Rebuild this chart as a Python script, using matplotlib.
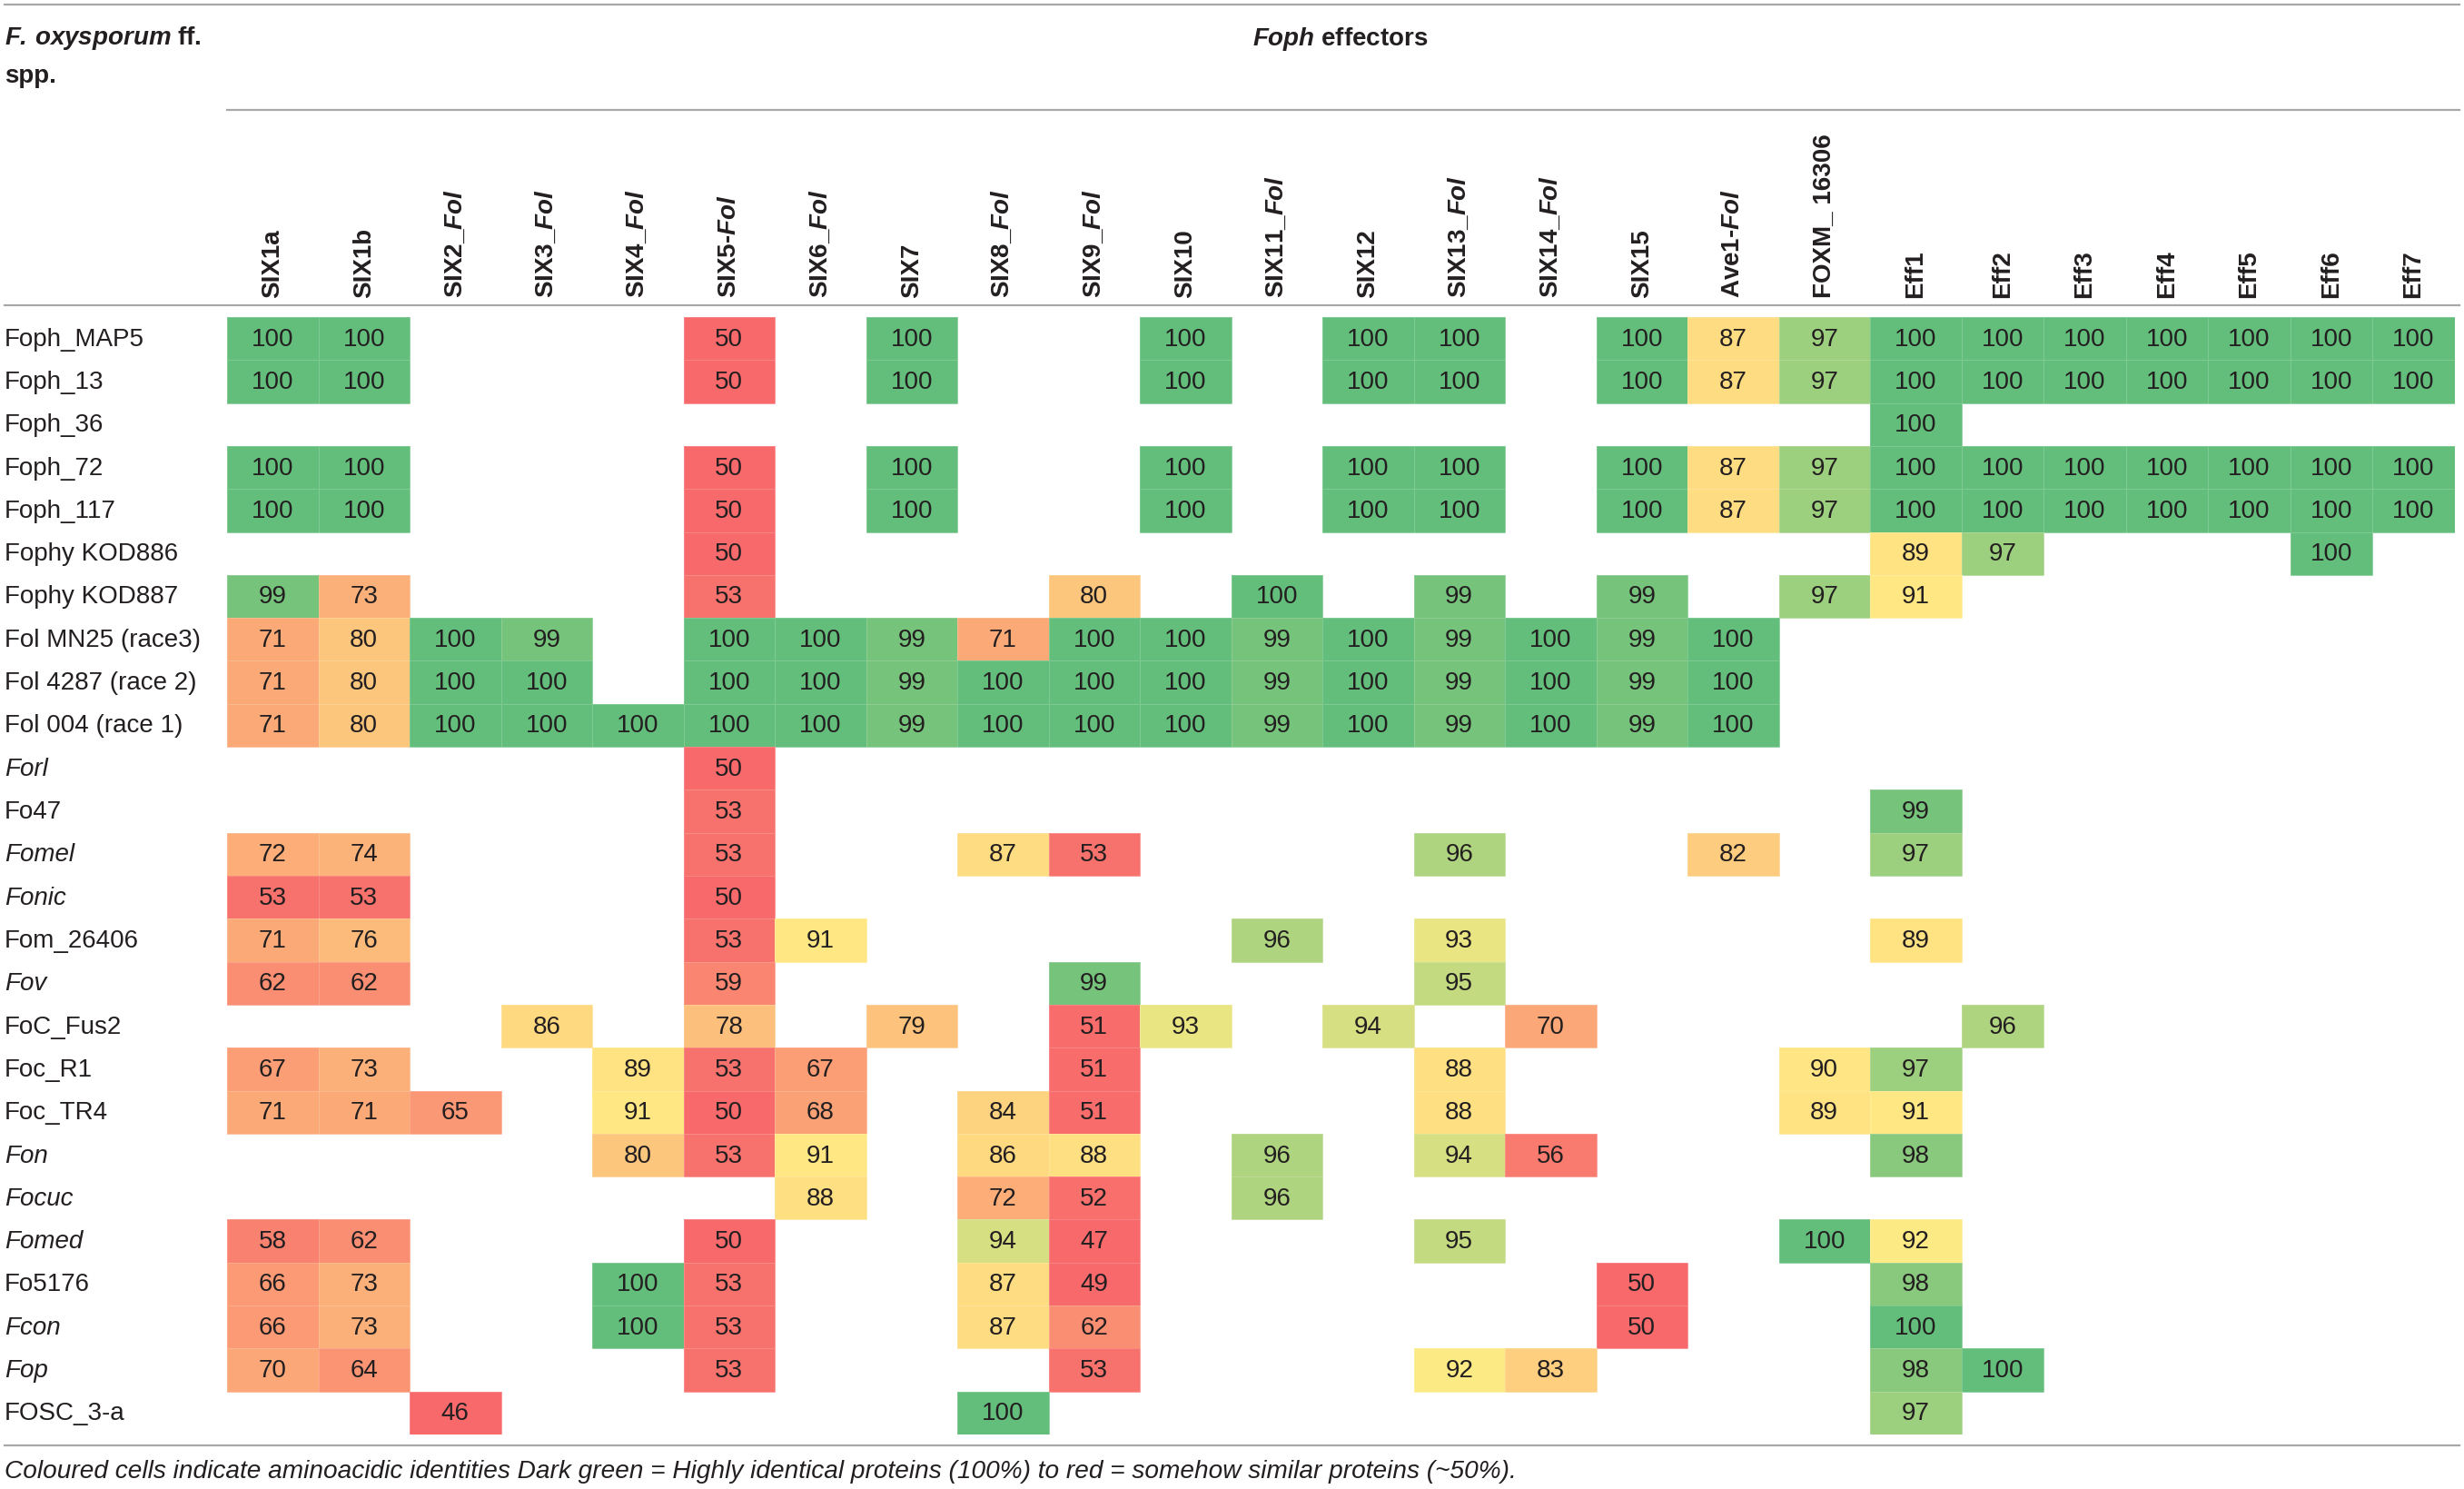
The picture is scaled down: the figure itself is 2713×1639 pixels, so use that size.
import numpy as np
import matplotlib
matplotlib.use("Agg")
import matplotlib.pyplot as plt
from matplotlib.colors import LinearSegmentedColormap, Normalize
from matplotlib.lines import Line2D
from matplotlib.transforms import blended_transform_factory

N = np.nan

# ---------------- data ----------------
effector_labels = [
    "SIX1a", "SIX1b", r"SIX2_$\mathbfit{Fol}$", r"SIX3_$\mathbfit{Fol}$",
    r"SIX4_$\mathbfit{Fol}$", r"SIX5-$\mathbfit{Fol}$", r"SIX6_$\mathbfit{Fol}$",
    "SIX7", r"SIX8_$\mathbfit{Fol}$", r"SIX9_$\mathbfit{Fol}$", "SIX10",
    r"SIX11_$\mathbfit{Fol}$", "SIX12", r"SIX13_$\mathbfit{Fol}$",
    r"SIX14_$\mathbfit{Fol}$", "SIX15", r"Ave1-$\mathbfit{Fol}$", "FOXM_ 16306",
    "Eff1", "Eff2", "Eff3", "Eff4", "Eff5", "Eff6", "Eff7",
]

strains = [
    "Foph_MAP5", "Foph_13", "Foph_36", "Foph_72", "Foph_117", "Fophy KOD886",
    "Fophy KOD887", "Fol MN25 (race3)", "Fol 4287 (race 2)", "Fol 004 (race 1)",
    "Forl", "Fo47", "Fomel", "Fonic", "Fom_26406", "Fov", "FoC_Fus2", "Foc_R1",
    "Foc_TR4", "Fon", "Focuc", "Fomed", "Fo5176", "Fcon", "Fop", "FOSC_3-a",
]
italic_strains = ["Forl", "Fomel", "Fonic", "Fov", "Fon", "Focuc", "Fomed", "Fcon", "Fop"]

#            1a   1b   2    3    4    5    6    7    8    9    10   11   12   13   14   15  Ave FOXM  E1   E2   E3   E4   E5   E6   E7
foph_map5 = [100, 100, N,   N,   N,   50,  N,   100, N,   N,   100, N,   100, 100, N,   100, 87,  97, 100, 100, 100, 100, 100, 100, 100]
foph_13   = [100, 100, N,   N,   N,   50,  N,   100, N,   N,   100, N,   100, 100, N,   100, 87,  97, 100, 100, 100, 100, 100, 100, 100]
foph_36   = [N,   N,   N,   N,   N,   N,   N,   N,   N,   N,   N,   N,   N,   N,   N,   N,   N,   N,  100, N,   N,   N,   N,   N,   N]
foph_72   = [100, 100, N,   N,   N,   50,  N,   100, N,   N,   100, N,   100, 100, N,   100, 87,  97, 100, 100, 100, 100, 100, 100, 100]
foph_117  = [100, 100, N,   N,   N,   50,  N,   100, N,   N,   100, N,   100, 100, N,   100, 87,  97, 100, 100, 100, 100, 100, 100, 100]
kod886    = [N,   N,   N,   N,   N,   50,  N,   N,   N,   N,   N,   N,   N,   N,   N,   N,   N,   N,   89,  97,  N,   N,   N,   100, N]
kod887    = [99,  73,  N,   N,   N,   53,  N,   N,   N,   80,  N,   100, N,   99,  N,   99,  N,   97,  91,  N,   N,   N,   N,   N,   N]
fol_mn25  = [71,  80,  100, 99,  N,   100, 100, 99,  71,  100, 100, 99,  100, 99,  100, 99,  100, N,   N,   N,   N,   N,   N,   N,   N]
fol_4287  = [71,  80,  100, 100, N,   100, 100, 99,  100, 100, 100, 99,  100, 99,  100, 99,  100, N,   N,   N,   N,   N,   N,   N,   N]
fol_004   = [71,  80,  100, 100, 100, 100, 100, 99,  100, 100, 100, 99,  100, 99,  100, 99,  100, N,   N,   N,   N,   N,   N,   N,   N]
forl      = [N,   N,   N,   N,   N,   50,  N,   N,   N,   N,   N,   N,   N,   N,   N,   N,   N,   N,   N,   N,   N,   N,   N,   N,   N]
fo47      = [N,   N,   N,   N,   N,   53,  N,   N,   N,   N,   N,   N,   N,   N,   N,   N,   N,   N,   99,  N,   N,   N,   N,   N,   N]
fomel     = [72,  74,  N,   N,   N,   53,  N,   N,   87,  53,  N,   N,   N,   96,  N,   N,   82,  N,   97,  N,   N,   N,   N,   N,   N]
fonic     = [53,  53,  N,   N,   N,   50,  N,   N,   N,   N,   N,   N,   N,   N,   N,   N,   N,   N,   N,   N,   N,   N,   N,   N,   N]
fom_26406 = [71,  76,  N,   N,   N,   53,  91,  N,   N,   N,   N,   96,  N,   93,  N,   N,   N,   N,   89,  N,   N,   N,   N,   N,   N]
fov       = [62,  62,  N,   N,   N,   59,  N,   N,   N,   99,  N,   N,   N,   95,  N,   N,   N,   N,   N,   N,   N,   N,   N,   N,   N]
foc_fus2  = [N,   N,   N,   86,  N,   78,  N,   79,  N,   51,  93,  N,   94,  N,   70,  N,   N,   N,   N,   96,  N,   N,   N,   N,   N]
foc_r1    = [67,  73,  N,   N,   89,  53,  67,  N,   N,   51,  N,   N,   N,   88,  N,   N,   N,   90,  97,  N,   N,   N,   N,   N,   N]
foc_tr4   = [71,  71,  65,  N,   91,  50,  68,  N,   84,  51,  N,   N,   N,   88,  N,   N,   N,   89,  91,  N,   N,   N,   N,   N,   N]
fon       = [N,   N,   N,   N,   80,  53,  91,  N,   86,  88,  N,   96,  N,   94,  56,  N,   N,   N,   98,  N,   N,   N,   N,   N,   N]
focuc     = [N,   N,   N,   N,   N,   N,   88,  N,   72,  52,  N,   96,  N,   N,   N,   N,   N,   N,   N,   N,   N,   N,   N,   N,   N]
fomed     = [58,  62,  N,   N,   N,   50,  N,   N,   94,  47,  N,   N,   N,   95,  N,   N,   N,   100, 92,  N,   N,   N,   N,   N,   N]
fo5176    = [66,  73,  N,   N,   100, 53,  N,   N,   87,  49,  N,   N,   N,   N,   N,   50,  N,   N,   98,  N,   N,   N,   N,   N,   N]
fcon      = [66,  73,  N,   N,   100, 53,  N,   N,   87,  62,  N,   N,   N,   N,   N,   50,  N,   N,   100, N,   N,   N,   N,   N,   N]
fop       = [70,  64,  N,   N,   N,   53,  N,   N,   N,   53,  N,   N,   N,   92,  83,  N,   N,   N,   98,  100, N,   N,   N,   N,   N]
fosc_3a   = [N,   N,   46,  N,   N,   N,   N,   N,   100, N,   N,   N,   N,   N,   N,   N,   N,   N,   97,  N,   N,   N,   N,   N,   N]

identity = np.array([
    foph_map5, foph_13, foph_36, foph_72, foph_117, kod886, kod887,
    fol_mn25, fol_4287, fol_004, forl, fo47, fomel, fonic, fom_26406, fov,
    foc_fus2, foc_r1, foc_tr4, fon, focuc, fomed, fo5176, fcon, fop, fosc_3a,
], dtype=float)

footnote = ("Coloured cells indicate aminoacidic identities Dark green = Highly identical "
            "proteins (100%) to red = somehow similar proteins (~50%).")

# ---------------- style / layout ----------------
plt.rcParams["font.family"] = ["Liberation Sans", "DejaVu Sans"]
plt.rcParams["mathtext.fontset"] = "custom"
plt.rcParams["mathtext.rm"] = "Liberation Sans"
plt.rcParams["mathtext.it"] = "Liberation Sans:italic"
plt.rcParams["mathtext.bf"] = "Liberation Sans:bold"
plt.rcParams["mathtext.bfit"] = "Liberation Sans:italic:bold"

W, H = 2713, 1640
TXT = "#231f20"
LINE = "#a8a8a8"
FS = 20

fig = plt.figure(figsize=(W / 100, H / 100), dpi=100)

# column widths (pixels): wide SIX/Ave1/FOXM/Eff1 columns, narrower Eff2-Eff7
col_w = np.array([100.5] * 19 + [90.5] * 6)
x_edges = np.concatenate([[0], np.cumsum(col_w)])
n_rows = len(strains)
y_edges = np.arange(n_rows + 1)

left_px, top_px, bottom_px = 250, 350, 1580
ax = fig.add_axes([left_px / W, 1 - bottom_px / H, x_edges[-1] / W, (bottom_px - top_px) / H])

cmap = LinearSegmentedColormap.from_list(
    "ryg", [(0.0, "#F8696B"), (0.84, "#FFEB84"), (1.0, "#63BE7B")])
cmap.set_under("#F8696B")
cmap.set_bad((1, 1, 1, 0))
norm = Normalize(vmin=50, vmax=100)

masked = np.ma.masked_invalid(identity)
ax.pcolormesh(x_edges, y_edges, masked, cmap=cmap, norm=norm,
              edgecolors=(1, 1, 1, 0.18), linewidth=0.7)
ax.set_xlim(x_edges[0], x_edges[-1])
ax.set_ylim(n_rows, 0)
ax.axis("off")

x_cent = (x_edges[:-1] + x_edges[1:]) / 2
for i in range(n_rows):
    for j in range(len(col_w)):
        v = identity[i, j]
        if not np.isnan(v):
            ax.text(x_cent[j], i + 0.5, f"{v:.0f}", ha="center", va="center",
                    fontsize=FS, color=TXT)

# row labels
tr_rows = blended_transform_factory(fig.transFigure, ax.transData)
for i, s in enumerate(strains):
    ax.text(5 / W, i + 0.5, s, transform=tr_rows, ha="left", va="center",
            fontsize=FS, color=TXT,
            style="italic" if s in italic_strains else "normal", clip_on=False)

# column headers (rotated)
tr_cols = blended_transform_factory(ax.transData, fig.transFigure)
for j, lab in enumerate(effector_labels):
    ax.text(x_cent[j], 1 - 328 / H, lab, transform=tr_cols, rotation=90,
            ha="center", va="bottom", fontsize=FS, fontweight="bold",
            color=TXT, clip_on=False)

# titles
fig.text(5 / W, 1 - 42 / H, r"$\mathbfit{F.\,oxysporum}$ ff.", ha="left", va="center",
         fontsize=FS, fontweight="bold", color=TXT)
fig.text(5 / W, 1 - 84 / H, "spp.", ha="left", va="center",
         fontsize=FS, fontweight="bold", color=TXT)
fig.text((left_px + x_edges[-1] / 2) / W, 1 - 43 / H, r"$\mathbfit{Foph}$ effectors",
         ha="center", va="center", fontsize=FS, fontweight="bold", color=TXT)

# rules
def hline(x0, x1, y):
    fig.add_artist(Line2D([x0 / W, x1 / W], [1 - y / H, 1 - y / H],
                          transform=fig.transFigure, color=LINE, linewidth=1.6))

hline(5, 2708, 6)
hline(250, 2708, 122)
hline(5, 2708, 337)
hline(5, 2708, 1592)

fig.text(5 / W, 1 - 1620 / H, footnote, ha="left", va="center", fontsize=20.2,
         style="italic", color=TXT)

fig.savefig("out.png", dpi=100, facecolor="white")
